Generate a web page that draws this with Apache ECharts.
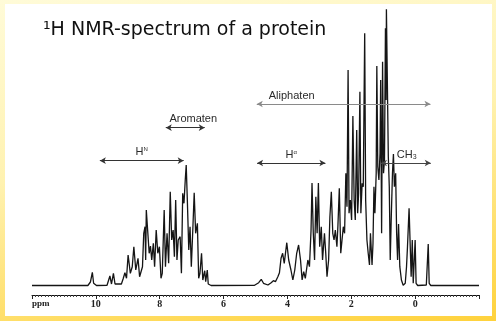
<!DOCTYPE html>
<html>
<head>
<meta charset="utf-8">
<script src="https://cdn.jsdelivr.net/npm/echarts@6/dist/echarts.min.js"></script>
<style>
  html, body { margin: 0; padding: 0; }
  body {
    width: 496px; height: 321px; overflow: hidden; position: relative;
    background: linear-gradient(170deg, #fffbd8 0%, #fff2b0 45%, #ffd23c 100%);
  }
  #sheet {
    position: absolute; left: 5px; top: 4px; width: 487px; height: 312px;
    background: #ffffff;
  }
  #chart { position: absolute; left: 0; top: 0; width: 496px; height: 321px; }
</style>
</head>
<body>
<div id="sheet"></div>
<div id="chart"></div>
<script>
// Chemical shift (ppm) and relative intensity of the traced 1H spectrum
const shiftPpm = [
  12.0, 10.25, 10.17, 10.11, 10.07, 9.98, 9.65, 9.56, 9.51, 9.45, 9.40, 9.20, 9.14, 9.09, 9.04,
  8.99, 8.92, 8.86, 8.81, 8.75, 8.68, 8.63, 8.54, 8.50, 8.46, 8.44, 8.42, 8.375, 8.33, 8.29,
  8.25, 8.20, 8.16, 8.11, 8.06, 8.01, 7.96, 7.92, 7.86, 7.82, 7.77, 7.72, 7.67, 7.625, 7.58,
  7.54, 7.50, 7.46, 7.42, 7.36, 7.32, 7.28, 7.24, 7.20, 7.17, 7.135, 7.09, 7.05, 7.01, 6.96,
  6.92, 6.875, 6.82, 6.78, 6.74, 6.69, 6.65, 6.59, 6.56, 6.51, 6.48, 6.39,
  5.03, 4.90, 4.82, 4.75, 4.61, 4.51, 4.44, 4.375, 4.30, 4.25, 4.20, 4.15, 4.10, 4.02, 3.96,
  3.89, 3.83, 3.77, 3.71, 3.65, 3.59, 3.54, 3.49, 3.44, 3.36, 3.31, 3.26, 3.23, 3.19, 3.15,
  3.11, 3.07, 3.03, 2.99, 2.94, 2.90, 2.84, 2.80, 2.76, 2.71, 2.67, 2.625, 2.58, 2.54, 2.50,
  2.45, 2.42, 2.375, 2.33, 2.29, 2.25, 2.21, 2.17, 2.135, 2.10, 2.07, 2.03, 1.99, 1.95, 1.91,
  1.875, 1.83, 1.80, 1.77, 1.73, 1.70, 1.66, 1.625, 1.58, 1.55, 1.51, 1.47, 1.43, 1.40, 1.35,
  1.32, 1.29, 1.26, 1.22, 1.20, 1.17, 1.135, 1.10, 1.08, 1.05, 1.02, 0.99, 0.96, 0.93, 0.91,
  0.90, 0.865, 0.84, 0.81, 0.78, 0.75, 0.71, 0.68, 0.65, 0.61, 0.58, 0.55, 0.52, 0.48, 0.43,
  0.375, 0.31, 0.27, 0.24, 0.19, 0.16, 0.125, 0.09, 0.06, 0.03, 0.0, -0.03, -0.08, -0.35, -0.41,
  -0.44, -0.49, -2.0
];
const intensity = [
  0.5, 0.5, 4, 13.7, 2.7, 0.5, 0.7, 10, 2, 12.7, 2, 2, 7.7, 13.3, 7.7,
  31, 12.7, 19.3, 39.3, 16, 27.7, 9.3, 19.3, 52.7, 59.3, 26, 76, 77, 32.7, 40,
  26, 42.7, 19.3, 56, 32.7, 39.3, 7.7, 12.7, 76, 19.3, 52.7, 22.7, 94.3, 46, 56,
  29.3, 86, 26, 46, 49.3, 12.7, 92.7, 82.7, 106, 121, 86, 36, 59.3, 19.3, 59.3,
  93.3, 52.7, 62.7, 7.7, 12.7, 32.7, 6, 15.3, 4.3, 16, 2, 0.5,
  0.7, 3.3, 6.7, 2.7, 1, 3.3, 5.3, 4.3, 9.3, 13.3, 27.7, 32.7, 22.7, 43.3, 26,
  16, 6, 16, 32.7, 41, 26, 6, 14.3, 7.7, 26, 19.3, 56, 103, 52.7, 26,
  89.3, 52.7, 103, 39.3, 59.3, 26, 52.7, 32.7, 9.3, 26, 69.3, 94.3, 52.7, 46, 56,
  39.3, 59.3, 97.7, 32.7, 46, 59.3, 52.7, 112.7, 79.3, 216, 72.7, 86, 66, 170, 86,
  66, 156, 72.7, 92.7, 194.3, 72.7, 102.7, 99.3, 252.7, 86, 46, 32.7, 21, 52.7, 21,
  42.7, 99.3, 72.7, 112.7, 220, 119.3, 106, 132.7, 206, 52.7, 224.3, 112.7, 126, 257.7, 186,
  276.7, 276, 129.3, 99.3, 26, 66, 112.7, 132, 99.3, 112.7, 52.7, 26, 62, 19.3, 6,
  0.7, 2.7, 19.3, 39.3, 77.7, 46, 9.3, 46, 2.7, 1, 46, 2.7, 0.5, 1, 42,
  2.7, 0.5, 0.5
];

// Region annotations: label, from-ppm, to-ppm, height, label placement
const regionLabels = ['H{s|N}', 'Aromaten', 'Aliphaten', 'H{s|α}', 'CH₃'];
const regionFrom   = [9.875, 7.81, 4.96, 4.95, 1.07];
const regionTo     = [7.25, 6.59, -0.48, 2.81, -0.49];
const regionLevel  = [125.3, 158.3, 182, 123, 123];
const regionPlace  = ['insideMiddleTop', 'insideMiddleTop', 'insideStartTop', 'insideMiddleTop', 'insideMiddleTop'];
const regionShift  = [0, 16, 9, 0, 2];
const regionColor  = ['#333333', '#333333', '#8a8a8a', '#333333', '#444444'];

// x-axis tick labels (ppm)
const tickLabels = ['10', '8', '6', '4', '2', '0'];

const spectrum = shiftPpm.map((p, i) => [p, intensity[i]]);

const regionLines = regionLabels.map((lab, i) => [
  {
    coord: [regionFrom[i], regionLevel[i]],
    lineStyle: { color: regionColor[i], width: 1, type: 'solid' },
    label: {
      show: true,
      formatter: lab,
      position: regionPlace[i],
      distance: 3,
      padding: [0, 0, 0, regionShift[i]],
      color: '#2a2a2a',
      fontFamily: 'Liberation Sans, Arial, sans-serif',
      fontSize: 11,
      rich: {
        s: { fontSize: 6, verticalAlign: 'top', lineHeight: 8, padding: [0, 0, 4, 0], color: '#2a2a2a' }
      }
    }
  },
  { coord: [regionTo[i], regionLevel[i]] }
]);

const chart = echarts.init(document.getElementById('chart'), null, { renderer: 'canvas' });
chart.setOption({
  animation: false,
  backgroundColor: 'transparent',
  title: {
    text: '¹H NMR-spectrum of a protein',
    left: 38,
    top: 16,
    textStyle: {
      fontFamily: 'DejaVu Sans, sans-serif',
      fontWeight: 'normal',
      fontSize: 19,
      color: '#111111'
    }
  },
  graphic: [{
    type: 'text',
    left: 32,
    top: 299,
    style: {
      text: 'ppm',
      font: 'bold 9px "Liberation Serif", "Times New Roman", serif',
      fill: '#222222'
    }
  }],
  grid: { left: 32, right: 17, top: 0, bottom: 26, containLabel: false },
  xAxis: {
    type: 'value',
    min: -2,
    max: 12,
    interval: 2,
    inverse: true,
    axisLine: { show: true, onZero: false, lineStyle: { color: '#111111', width: 1 } },
    axisTick: { show: true, length: 4, lineStyle: { color: '#222222' } },
    minorTick: { show: true, splitNumber: 20, length: 2, lineStyle: { color: '#444444' } },
    splitLine: { show: false },
    axisLabel: {
      margin: 4,
      color: '#222222',
      fontFamily: 'Liberation Serif, Times New Roman, serif',
      fontWeight: 'bold',
      fontSize: 10,
      formatter: v => tickLabels.includes(String(v)) ? String(v) : ''
    }
  },
  yAxis: {
    type: 'value',
    min: -9,
    max: 286,
    show: false
  },
  series: [{
    type: 'line',
    data: spectrum,
    showSymbol: false,
    symbol: 'none',
    lineStyle: { color: '#151515', width: 1.3 },
    clip: false,
    markLine: {
      silent: true,
      symbol: ['arrow', 'arrow'],
      symbolSize: [5, 6],
      data: regionLines
    }
  }]
});
</script>
</body>
</html>
